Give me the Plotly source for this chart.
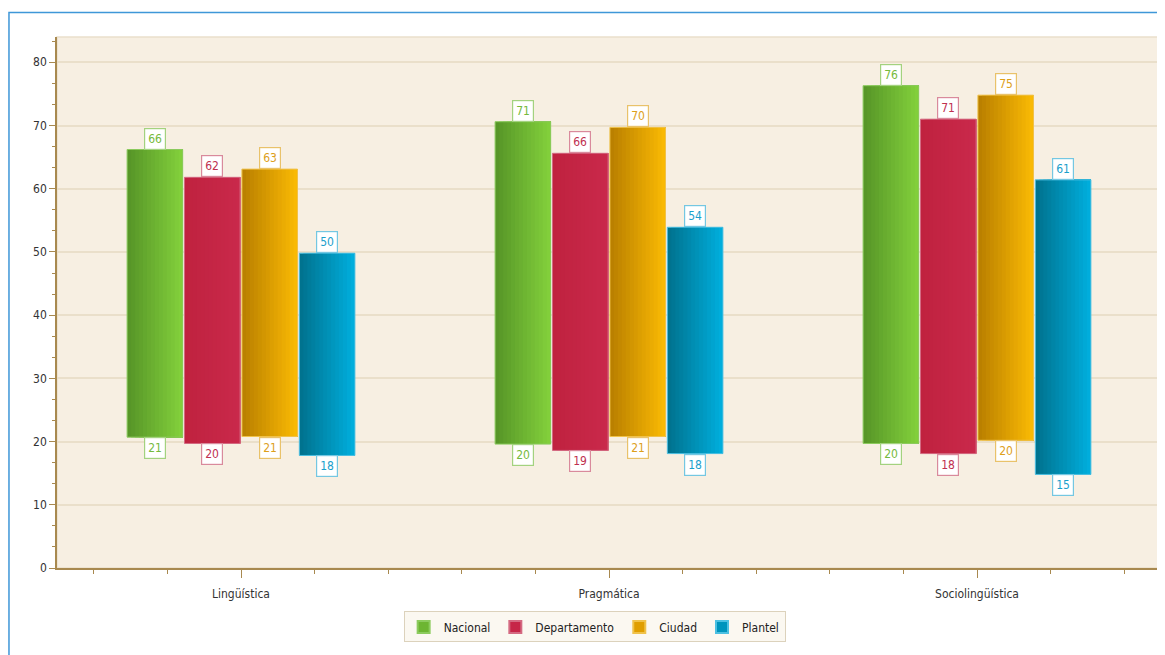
import plotly.graph_objects as go

categories = ["Lingüística", "Pragmática", "Sociolingüística"]
series_names = ["Nacional", "Departamento", "Ciudad", "Plantel"]

nacional_high = [66.2, 70.6, 76.3]
nacional_low = [20.7, 19.6, 19.7]
departamento_high = [61.8, 65.6, 71.0]
departamento_low = [19.7, 18.6, 18.1]
ciudad_high = [63.1, 69.7, 74.8]
ciudad_low = [20.8, 20.8, 20.2]
plantel_high = [49.8, 53.9, 61.4]
plantel_low = [17.8, 18.1, 14.8]

highs = [nacional_high, departamento_high, ciudad_high, plantel_high]
lows = [nacional_low, departamento_low, ciudad_low, plantel_low]

y_ticks = [0, 10, 20, 30, 40, 50, 60, 70, 80]

# styles
grad_left = ["#579628", "#C0223F", "#BA8000", "#00738F"]
grad_right = ["#82CF3B", "#C9294B", "#F9B904", "#00ADDC"]
edge_cols = ["#8CCB5E", "#D46A82", "#F0C24A", "#4CC0E2"]
lab_text = ["#76BA3C", "#C0304F", "#DDA01A", "#1AA0CC"]
lab_border = ["#A3D27F", "#D98A9C", "#E9C26A", "#74C7E2"]
legend_cols = ["#6DB532", "#C62648", "#E09E00", "#0094BD"]

step = 0.156
bar_w = 0.151
n_strips = 14
font_fam = "DejaVu Sans Condensed, Liberation Sans, sans-serif"


def mix(c1, c2, t):
    a = [int(c1[i:i + 2], 16) for i in (1, 3, 5)]
    b = [int(c2[i:i + 2], 16) for i in (1, 3, 5)]
    return "rgb(%d,%d,%d)" % tuple(round(a[k] + (b[k] - a[k]) * t) for k in range(3))


xpos = list(range(len(categories)))
fig = go.Figure()
annotations = []

for s, name in enumerate(series_names):
    hi = highs[s]
    lo = lows[s]
    length = [h - l for h, l in zip(hi, lo)]
    center_off = (s - 1.5) * step
    left = center_off - bar_w / 2
    sub = bar_w / n_strips
    for k in range(n_strips):
        fig.add_trace(go.Bar(
            x=xpos, y=length, base=lo,
            offset=left + k * sub, width=bar_w - k * sub,
            marker=dict(color=mix(grad_left[s], grad_right[s], k / (n_strips - 1)),
                        line=dict(width=0)),
            name=name, legendgroup=name, showlegend=False, hoverinfo="skip",
        ))
    # outline
    fig.add_trace(go.Bar(
        x=xpos, y=length, base=lo, offset=left, width=bar_w,
        marker=dict(color="rgba(0,0,0,0)", line=dict(color=edge_cols[s], width=1)),
        name=name, legendgroup=name, showlegend=False, hoverinfo="skip",
    ))
    # legend entry
    fig.add_trace(go.Bar(
        x=[None], y=[None], name=name, legendgroup=name,
        marker=dict(color=legend_cols[s], line=dict(color=edge_cols[s], width=1)),
    ))
    for i in xpos:
        for val, anchor in ((hi[i], "bottom"), (lo[i], "top")):
            annotations.append(dict(
                x=i + center_off, y=val, xref="x", yref="y",
                text=str(int(round(val))), showarrow=False,
                yanchor=anchor, xanchor="center",
                font=dict(family=font_fam, size=12, color=lab_text[s]),
                bgcolor="#FFFFFF", bordercolor=lab_border[s], borderwidth=1.2, borderpad=3,
            ))

axis_col = "#A8894F"
fig.update_layout(
    width=1157, height=647,
    barmode="overlay",
    paper_bgcolor="#FFFFFF",
    plot_bgcolor="#F7EFE2",
    margin=dict(l=49, r=4, t=29, b=87),
    font=dict(family=font_fam, size=12, color="#333333"),
    annotations=annotations,
    showlegend=True,
    legend=dict(
        orientation="h", x=0.487, xanchor="center", y=-0.111, yanchor="middle",
        bgcolor="#FBF8F1", bordercolor="#DCD2BC", borderwidth=1,
        font=dict(family=font_fam, size=12, color="#222222"),
        itemsizing="constant",
    ),
    xaxis=dict(
        range=[-0.5, 2.5], tickmode="array", tickvals=xpos, ticktext=categories,
        showgrid=False, zeroline=False,
        showline=True, linecolor=axis_col, linewidth=1.5,
        ticks="outside", ticklen=8, tickcolor=axis_col, tickwidth=1,
        ticklabelstandoff=6,
        minor=dict(dtick=0.2, tick0=0, ticks="outside", ticklen=4,
                   tickcolor=axis_col, showgrid=False),
        tickfont=dict(size=12, color="#333333"),
    ),
    yaxis=dict(
        range=[0, 84], tickvals=y_ticks,
        showgrid=True, gridcolor="#EADFCA", gridwidth=1.5, zeroline=False,
        showline=True, linecolor=axis_col, linewidth=1.5,
        ticks="outside", ticklen=6, tickcolor=axis_col,
        minor=dict(dtick=10 / 3, tick0=0, ticks="outside", ticklen=3,
                   tickcolor=axis_col, showgrid=False),
        tickfont=dict(size=12, color="#333333"),
    ),
    shapes=[
        dict(type="rect", xref="paper", yref="paper", x0=0, x1=1, y0=0, y1=1,
             line=dict(color="#EADFCC", width=1.5), layer="below"),
        dict(type="rect", xref="paper", yref="paper",
             x0=-0.0435, x1=1.05, y0=-0.25, y1=1.046,
             line=dict(color="#3F97D8", width=1.5), layer="above"),
    ],
)

fig.write_html("out.html")
